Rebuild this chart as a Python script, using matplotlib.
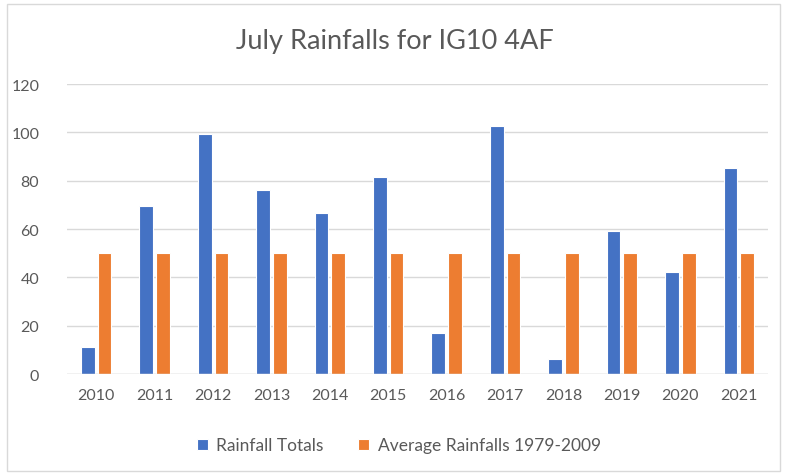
import numpy as np
import matplotlib.pyplot as plt
from matplotlib.patches import Rectangle

years = ['2010', '2011', '2012', '2013', '2014', '2015',
         '2016', '2017', '2018', '2019', '2020', '2021']
rainfall_totals = [11.0, 69.4, 99.2, 76.0, 66.5, 81.5, 17.0, 102.5, 6.1, 59.0, 42.2, 85.1]
average_rainfall = [50, 50, 50, 50, 50, 50, 50, 50, 50, 50, 50, 50]

plt.rcParams['font.family'] = ['Lato', 'DejaVu Sans']

fig = plt.figure(figsize=(7.9, 4.77), dpi=100)
ax = fig.add_axes([0.0848, 0.2138, 0.8873, 0.608])

x = np.arange(len(years))
w = 0.235
ax.bar(x - 0.143, rainfall_totals, w, color='#4472C4', edgecolor='white', lw=0.8,
       label='Rainfall Totals', zorder=3)
ax.bar(x + 0.143, average_rainfall, w, color='#ED7D31', edgecolor='white', lw=0.8,
       label='Average Rainfalls 1979-2009', zorder=3)

ax.set_xlim(-0.5, len(years) - 0.5)
ax.set_ylim(0, 120)
ax.set_yticks(range(0, 121, 20))
ax.set_xticks(x)
ax.set_xticklabels(years)
ax.tick_params(length=0, colors='#595959', labelsize=11.5)
ax.tick_params(axis='y', pad=20)
ax.tick_params(axis='x', pad=10)
ax.grid(axis='y', color='#D9D9D9', lw=1, zorder=0)
for s in ax.spines.values():
    s.set_visible(False)
ax.axhline(0, color='#D9D9D9', lw=1, zorder=4)

fig.text(0.5, 0.912, 'July Rainfalls for IG10 4AF', ha='center', va='center',
         fontsize=19.5, color='#595959')

fig.legend(loc='center', bbox_to_anchor=(0.505, 0.064), ncol=2, frameon=False,
           fontsize=12.5, handlelength=0.6, handleheight=0.6, columnspacing=2.0,
           handletextpad=0.5, labelcolor='#595959')

fig.patches.append(Rectangle((7 / 790, 5 / 477), 773 / 790, 467 / 477,
                             transform=fig.transFigure, fill=False,
                             edgecolor='#D9D9D9', lw=1))

fig.savefig('out.png', dpi=100)
